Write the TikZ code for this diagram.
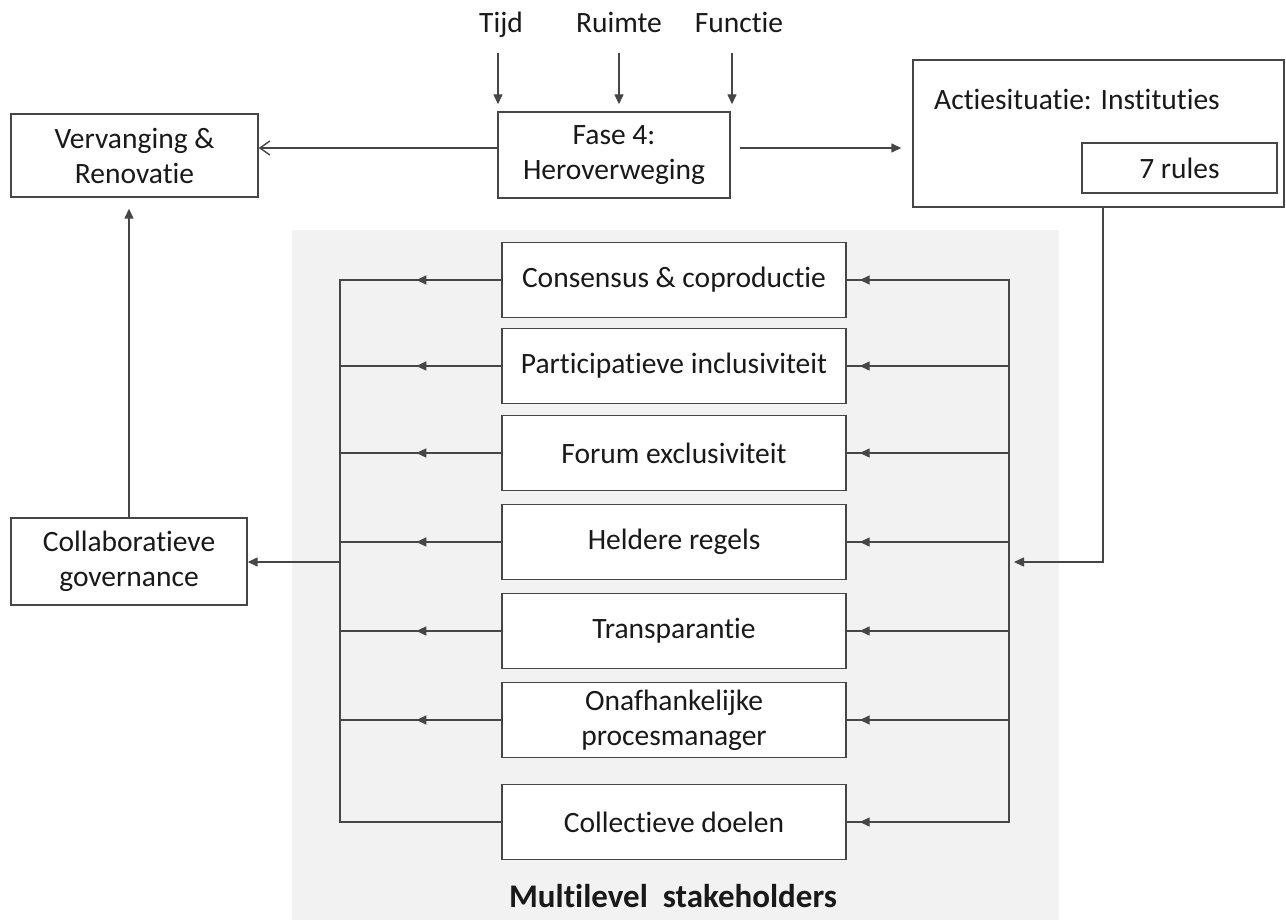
\documentclass[tikz,border=0pt]{standalone}
\usepackage{fontspec}
\setmainfont{Carlito}[Ligatures=CommonOff]
\usetikzlibrary{arrows.meta,decorations.markings,calc}
\definecolor{bggray}{RGB}{242,242,242}
\definecolor{linec}{RGB}{70,70,70}
\definecolor{txt}{RGB}{25,25,25}
\begin{document}
\begin{tikzpicture}[x=1pt,y=-1pt,
  box/.style={draw=linec, line width=1.4pt, fill=white, text=txt, align=center,
    font=\fontsize{29.5}{35}\selectfont, inner sep=0pt},
  row/.style={box, minimum width=344pt, minimum height=75pt},
  lbl/.style={text=txt, font=\fontsize{29.5}{35}\selectfont, inner sep=0pt},
  conn/.style={draw=linec, line width=1.4pt},
  tip/.style={-{Triangle[length=10pt,width=9pt]}},
  leftmid/.style={postaction={decorate}, decoration={markings,
    mark=at position 85pt with {\arrow{Triangle[length=10pt,width=9pt]}}}},
  rightmid/.style={postaction={decorate}, decoration={markings,
    mark=at position -13pt with {\arrow{Triangle[length=10pt,width=9pt]}}}}]
\useasboundingbox (0,0) rectangle (1286,920);
\fill[bggray] (292,230) rectangle (1059,920);

% top boxes
\node[box, minimum width=247pt, minimum height=83pt] (verv) at (134.5,155.5) {Vervanging \&\\Renovatie};
\node[box, minimum width=232pt, minimum height=86pt] (fase) at (614,155) {Fase 4:\\Heroverweging};
\node[draw=linec, line width=1.4pt, fill=white, minimum width=371pt, minimum height=147pt, inner sep=0pt] (actie) at (1098.5,133.5) {};
\node[lbl, anchor=base west] (actietxt) at (934,110) {Actiesituatie: Instituties};
\node[box, minimum width=195pt, minimum height=50pt] (rules) at (1179.5,168) {7 rules};
\node[box, minimum width=236pt, minimum height=87pt] (collab) at (129,561.5) {Collaboratieve\\governance};

% top labels
\node[lbl, anchor=base] (tijd) at (501,33) {Tijd};
\node[lbl, anchor=base] (ruimte) at (619,33) {Ruimte};
\node[lbl, anchor=base] (functie) at (739,33) {Functie};
\coordinate (ta) at (498,53);
\coordinate (ra) at (619,53);
\coordinate (fa) at (732,53);
\draw[conn, tip, shorten >=7pt] (ta) -- (ta |- fase.north);
\draw[conn, tip, shorten >=7pt] (ra) -- (ra |- fase.north);
\draw[conn, tip, shorten >=7pt] (fa) -- (fa |- fase.north);

% horizontal arrows from Fase 4
\coordinate (h1) at (0,148);
\draw[conn, -{Straight Barb[length=10pt,width=14pt]}] (fase.west |- h1) -- (verv.east |- h1);
\draw[conn, tip, shorten <=9pt, shorten >=11pt] (fase.east |- h1) -- (actie.west |- h1);

% rows
\node[row] (c1) at (674,280) {Consensus \& coproductie};
\node[row] (c2) at (674,366) {Participatieve inclusiviteit};
\node[row] (c3) at (674,453) {Forum exclusiviteit};
\node[row] (c4) at (674,542) {Heldere regels};
\node[row] (c5) at (674,631) {Transparantie};
\node[row] (c6) at (674,720) {Onafhankelijke\\procesmanager};
\node[row] (c7) at (674,822) {Collectieve doelen};

\coordinate (L) at (340,0);
\coordinate (R) at (1009,0);

% left collector
\draw[conn, line cap=rect] (c1.west -| L) -- (c7.west -| L);
\foreach \c in {c1,c2,c3,c4,c5,c6}
  \draw[conn, leftmid] (\c.west) -- (\c.west -| L);
\draw[conn] (c7.west) -- (c7.west -| L);

% right collector
\draw[conn, line cap=rect] (c1.east -| R) -- (c7.east -| R);
\foreach \c in {c1,c2,c3,c4,c5,c6,c7}
  \draw[conn, rightmid] (\c.east -| R) -- (\c.east);

% 7 rules connector
\coordinate (rc) at (1103,562);
\draw[conn, tip, shorten >=5pt] (actie.south -| rc) -- (rc) -- (rc -| R);

% to collaboratieve governance
\coordinate (g) at (340,562);
\draw[conn, tip] (g) -- (collab.east |- g);
\draw[conn, tip, shorten >=11pt] (collab.north) -- (collab.north |- verv.south);

% label
\node[text=txt, font=\fontsize{33}{40}\selectfont\bfseries, anchor=base, inner sep=0pt] (ms) at (673,907) {Multilevel\ \ stakeholders};
\end{tikzpicture}
\end{document}
